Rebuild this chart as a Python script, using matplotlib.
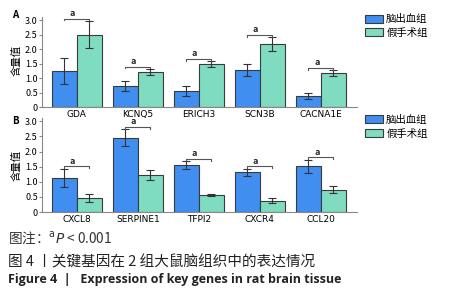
import matplotlib
matplotlib.use("Agg")
import matplotlib.pyplot as plt
import numpy as np

plt.rcParams['font.family'] = ['Noto Sans CJK SC', 'DejaVu Sans']

# panel A
genes_a = ["GDA", "KCNQ5", "ERICH3", "SCN3B", "CACNA1E"]
hem_a = [1.25, 0.72, 0.55, 1.27, 0.39]
hem_a_err = [0.45, 0.18, 0.17, 0.20, 0.11]
sham_a = [2.50, 1.21, 1.48, 2.17, 1.17]
sham_a_err = [0.47, 0.10, 0.10, 0.24, 0.10]

# panel B
genes_b = ["CXCL8", "SERPINE1", "TFPI2", "CXCR4", "CCL20"]
hem_b = [1.13, 2.45, 1.55, 1.31, 1.51]
hem_b_err = [0.30, 0.28, 0.13, 0.12, 0.22]
sham_b = [0.46, 1.22, 0.57, 0.37, 0.74]
sham_b_err = [0.13, 0.17, 0.03, 0.08, 0.12]

yticks = [0, 0.5, 1.0, 1.5, 2.0, 2.5, 3.0]
ytick_labels = ["0", "0.5", "1.0", "1.5", "2.0", "2.5", "3.0"]
group_labels = ["脑出血组", "假手术组"]

BLUE = "#3f8ef0"
GREEN = "#7fdcc0"
EDGE = "#3a3a3a"
W = 0.41


def panel(ax, genes, hem, hem_err, sham, sham_err):
    x = np.arange(len(genes))
    ax.bar(x - W / 2, hem, W, color=BLUE, edgecolor=EDGE, linewidth=0.8,
           label=group_labels[0], zorder=2)
    ax.bar(x + W / 2, sham, W, color=GREEN, edgecolor=EDGE, linewidth=0.8,
           label=group_labels[1], zorder=2)
    ax.errorbar(x - W / 2, hem, yerr=hem_err, fmt="none", ecolor="#333333",
                elinewidth=0.8, capsize=3, capthick=0.8, zorder=3)
    ax.errorbar(x + W / 2, sham, yerr=sham_err, fmt="none", ecolor="#333333",
                elinewidth=0.8, capsize=3, capthick=0.8, zorder=3)
    for i in range(len(genes)):
        top = max(hem[i] + hem_err[i], sham[i] + sham_err[i]) + 0.08
        x1, x2 = i - W / 2, i + W / 2
        ax.plot([x1, x1, x2, x2], [top - 0.06, top, top, top - 0.06],
                color="#555555", lw=0.8, zorder=4)
        ax.text(i - 0.07, top + 0.02, "a", ha="center", va="bottom",
                fontsize=6.5, fontweight="bold", color="#222222")
    ax.set_xlim(-0.57, len(genes) - 1 + 0.59)
    ax.set_ylim(0, 3.1)
    ax.set_yticks(yticks)
    ax.set_yticklabels(ytick_labels, fontsize=6.5)
    ax.set_xticks(x)
    ax.set_xticklabels(genes, fontsize=6.5, family="DejaVu Sans")
    ax.tick_params(axis="x", length=0, pad=2)
    ax.tick_params(axis="y", length=2, pad=1, color="#888888")
    for s in ["top", "right"]:
        ax.spines[s].set_visible(False)
    for s in ["left", "bottom"]:
        ax.spines[s].set_color("#888888")
        ax.spines[s].set_linewidth(0.8)
    leg = ax.legend(loc="upper left", bbox_to_anchor=(1.01, 1.09), frameon=False,
                    fontsize=7.5, handlelength=1.7, handleheight=0.8,
                    labelspacing=0.35, borderpad=0, handletextpad=0.3)
    return leg


fig = plt.figure(figsize=(4.5, 3), dpi=100)
ax_a = fig.add_axes([0.0933, 0.643, 0.70, 0.30])
ax_b = fig.add_axes([0.0933, 0.293, 0.70, 0.313])
panel(ax_a, genes_a, hem_a, hem_a_err, sham_a, sham_a_err)
panel(ax_b, genes_b, hem_b, hem_b_err, sham_b, sham_b_err)

fig.text(0.027, 0.95, "A", fontsize=7, fontweight="bold", ha="left", va="center")
fig.text(0.027, 0.595, "B", fontsize=7, fontweight="bold", ha="left", va="center")
fig.text(0.038, 0.80, "含量值", fontsize=7.5, rotation=90, ha="center", va="center")
fig.text(0.038, 0.45, "含量值", fontsize=7.5, rotation=90, ha="center", va="center")

fig.text(0.018, 0.207, "图注：$^{\\mathrm{a}}P$ < 0.001", fontsize=9.8,
         ha="left", va="center", color="#333333")
fig.text(0.018, 0.127, "图 4 丨关键基因在 2 组大鼠脑组织中的表达情况", fontsize=10.5,
         ha="left", va="center", color="#222222")
fig.text(0.018, 0.067, "Figure 4  |   Expression of key genes in rat brain tissue",
         fontsize=9, fontweight="bold", family="Open Sans",
         ha="left", va="center", color="#222222")

fig.savefig("out.png", dpi=100)
